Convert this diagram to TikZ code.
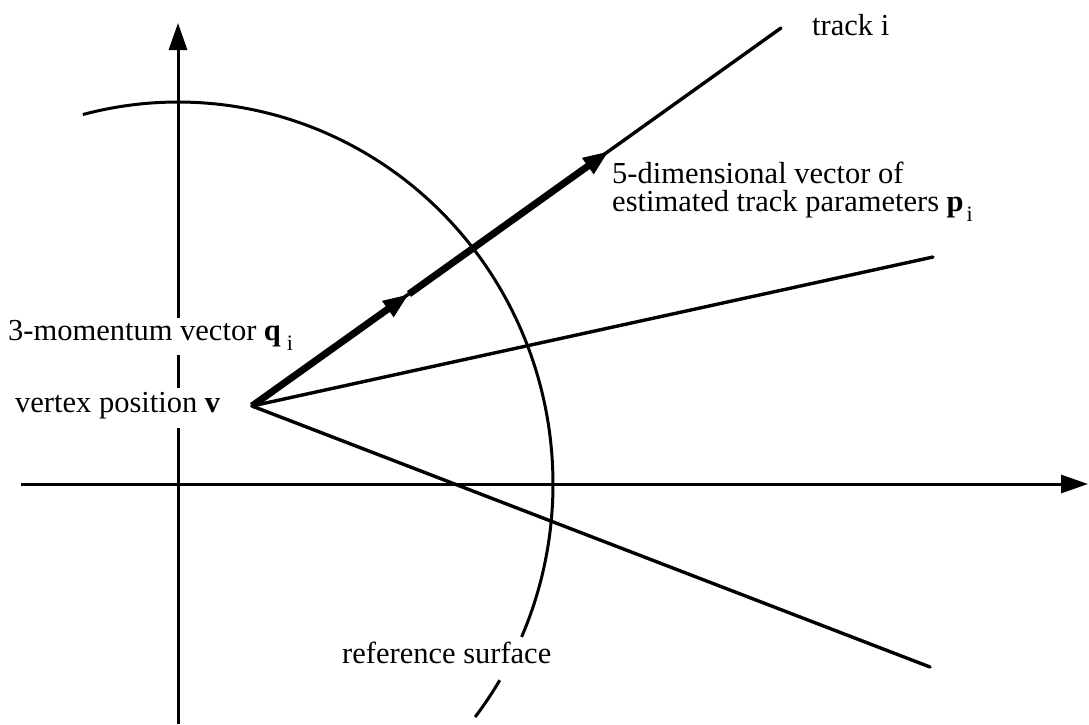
\documentclass[tikz,border=0pt]{standalone}
\usepackage{fontspec}
\setmainfont{Liberation Serif}
\usetikzlibrary{arrows.meta}
\newcommand\lowsub[1]{\raisebox{-10pt}{\fontsize{22}{22}\selectfont #1}}
\begin{document}
\begin{tikzpicture}[x=1pt,y=-1pt,
  axis/.style={line width=3pt},
  axisarrow/.style={axis,-{Triangle[length=27pt,width=18pt]}},
  track/.style={line width=3.4pt,line cap=round},
  vec/.style={line width=7pt,-{Triangle[length=26pt,width=18pt]}},
  surf/.style={line width=3pt},
  lbl/.style={inner sep=0pt,anchor=base west,font=\fontsize{30.5}{28}\selectfont},
]
\useasboundingbox (0,0) rectangle (1089,724);
% coordinates
\coordinate (O) at (178,484);
\coordinate (V) at (252,406);
\coordinate (T) at (781,28);
\coordinate (M) at (933,257);
\coordinate (L) at (930,667);
\coordinate (A1) at (409,294);
\coordinate (A2) at (609,151);
\coordinate (Xl) at (21,484);
\coordinate (Xr) at (1088,484);
\coordinate (Yb) at (178,724);
\coordinate (Yt) at (178,23);
\coordinate (Ya) at (178,318);
\coordinate (Yb1) at (178,355);
\coordinate (Yb2) at (178,388);
\coordinate (Yc) at (178,428);
% axes
\draw[axisarrow] (Xl) -- (Xr);
\draw[axisarrow] (Ya) -- (Yt);
\draw[axis] (Yb1) -- (Yb2);
\draw[axis] (Yb) -- (Yc);
% reference surface
\draw[surf] plot[domain=-104.7:23.6,samples=120] ({178+375*cos(\x)},{484+382*sin(\x)});
\draw[surf] plot[domain=30.9:37.6,samples=20] ({178+375*cos(\x)},{484+382*sin(\x)});
% tracks
\draw[track] (V) -- (T);
\draw[track] (V) -- (M);
\draw[track] (V) -- (L);
\draw[vec] (V) -- (A1);
\draw[vec] (A1) -- (A2);
% labels
\node[lbl] (tracklbl) at (812,35) {track i};
\node[lbl] (par1) at (612,183) {5-dimensional vector of};
\node[lbl] (par2) at (612,211) {estimated track parameters \textbf{p}\hspace{3pt}\lowsub{i}};
\node[lbl] (mom) at (8,340) {3-momentum vector \textbf{q}\hspace{6pt}\lowsub{i}};
\node[lbl] (vtx) at (15,412) {vertex position \textbf{v}};
\node[lbl] (ref) at (342,663) {reference surface};
\end{tikzpicture}
\end{document}
